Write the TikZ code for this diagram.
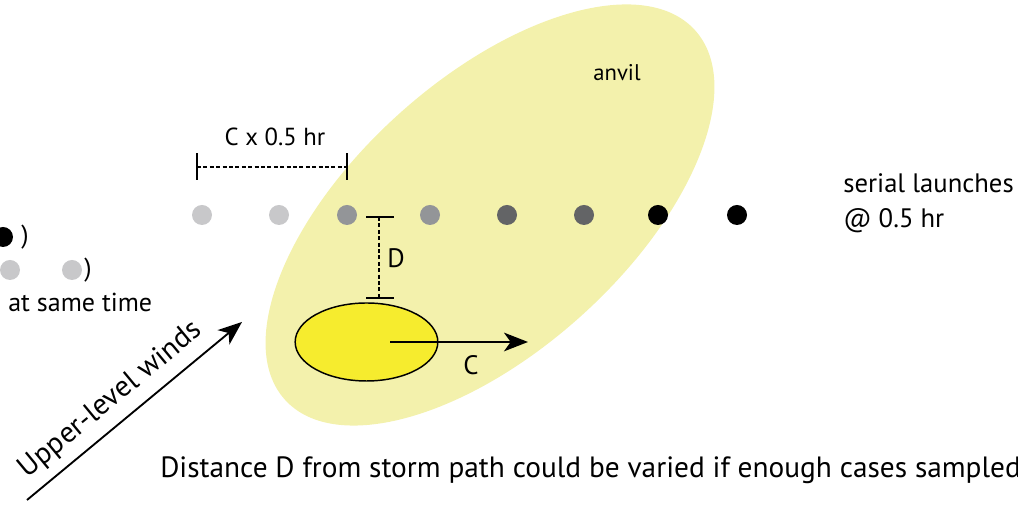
\documentclass[tikz,border=0pt]{standalone}
\usepackage{fontspec}
\setmainfont{PT Sans}
\usetikzlibrary{arrows.meta,shapes.geometric}
\definecolor{anvilc}{RGB}{243,241,172}
\definecolor{stormc}{RGB}{246,236,46}
\definecolor{dotA}{RGB}{200,200,202}
\definecolor{dotB}{RGB}{147,149,152}
\definecolor{dotC}{RGB}{99,100,102}
\tikzset{
  lbl/.style={font=\fontsize{17}{21}\selectfont, inner sep=0pt},
  letlbl/.style={font=\fontsize{20}{24}\selectfont, inner sep=0pt},
  cxlbl/.style={font=\fontsize{18.5}{22}\selectfont, inner sep=0pt},
  seriallbl/.style={font=\fontsize{20}{26}\selectfont, inner sep=0pt},
  samelbl/.style={font=\fontsize{19.5}{24}\selectfont, inner sep=0pt},
  biglbl/.style={font=\fontsize{22}{26}\selectfont, inner sep=0pt},
  dot/.style={circle, inner sep=0pt, minimum size=15pt, draw=none},
  tick/.style={line width=1.1pt},
  dim/.style={line width=0.8pt, dash pattern=on 3pt off 1.8pt},
  arr/.style={line width=1.4pt, -{Stealth[length=18pt,width=14pt,inset=5pt]}}
}
\begin{document}
\begin{tikzpicture}[x=0.75pt,y=0.75pt]
\useasboundingbox (0,0) rectangle (1018,505);
\clip (0,0) rectangle (1018,505);
% anvil
\fill[anvilc, rotate around={42:(490,290)}] (490,290) ellipse [x radius=276, y radius=136];
\node[lbl] (anvil) at (617,432) {anvil};
% storm
\node[ellipse, draw=black, line width=1.1pt, fill=stormc, minimum width=107pt, minimum height=58.5pt, inner sep=0pt] (storm) at (366.5,163) {};
\coordinate (cstart) at (390,163);
\coordinate (cend) at (528,163);
\draw[arr] (cstart) -- (cend);
\node[letlbl] (clabel) at (471,140) {C};
% dots
\node[dot, fill=dotA] (d1) at (202,290) {};
\node[dot, fill=dotA] (d2) at (279,290) {};
\node[dot, fill=dotB] (d3) at (347,290) {};
\node[dot, fill=dotB] (d4) at (430,290) {};
\node[dot, fill=dotC] (d5) at (507,290) {};
\node[dot, fill=dotC] (d6) at (584,290) {};
\node[dot, fill=black] (d7) at (658,290) {};
\node[dot, fill=black] (d8) at (737,290) {};
% left partial group
\node[dot, fill=black] (l1) at (3,268) {};
\node[samelbl] (p1) at (25,268) {)};
\node[dot, fill=dotA] (l2) at (10,235) {};
\node[dot, fill=dotA] (l3) at (72,235) {};
\node[samelbl] (p2) at (88,235) {)};
\node[samelbl, anchor=west] (same) at (8,203) {at same time};
% C x 0.5 hr dimension
\node[cxlbl] (cx) at (275,368) {C x 0.5 hr};
\coordinate (t1a) at (197,325); \coordinate (t1b) at (197,352);
\coordinate (t2a) at (347,325); \coordinate (t2b) at (347,352);
\coordinate (h1) at (197,338); \coordinate (h2) at (347,338);
\draw[tick] (t1a) -- (t1b);
\draw[tick] (t2a) -- (t2b);
\draw[dim] (h1) -- (h2);
% D dimension
\coordinate (da1) at (366,288); \coordinate (da2) at (394,288);
\coordinate (db1) at (366,207); \coordinate (db2) at (394,207);
\coordinate (dv1) at (379,288); \coordinate (dv2) at (379,207);
\draw[tick] (da1) -- (da2);
\draw[tick] (db1) -- (db2);
\draw[dim] (dv1) -- (dv2);
\node[letlbl] (dlabel) at (396,247) {D};
% upper-level winds
\coordinate (w1) at (27,5);
\coordinate (w2) at (242,183);
\draw[arr] (w1) -- (w2) node[pos=0.46, sloped, above=7pt, biglbl] (winds) {Upper-level winds};
% right labels
\node[seriallbl, anchor=west, align=left] (serial) at (843,302) {serial launches\\@ 0.5 hr};
% bottom text
\node[biglbl, anchor=west] (bottom) at (160,35) {Distance D from storm path could be varied if enough cases sampled};
\end{tikzpicture}
\end{document}
